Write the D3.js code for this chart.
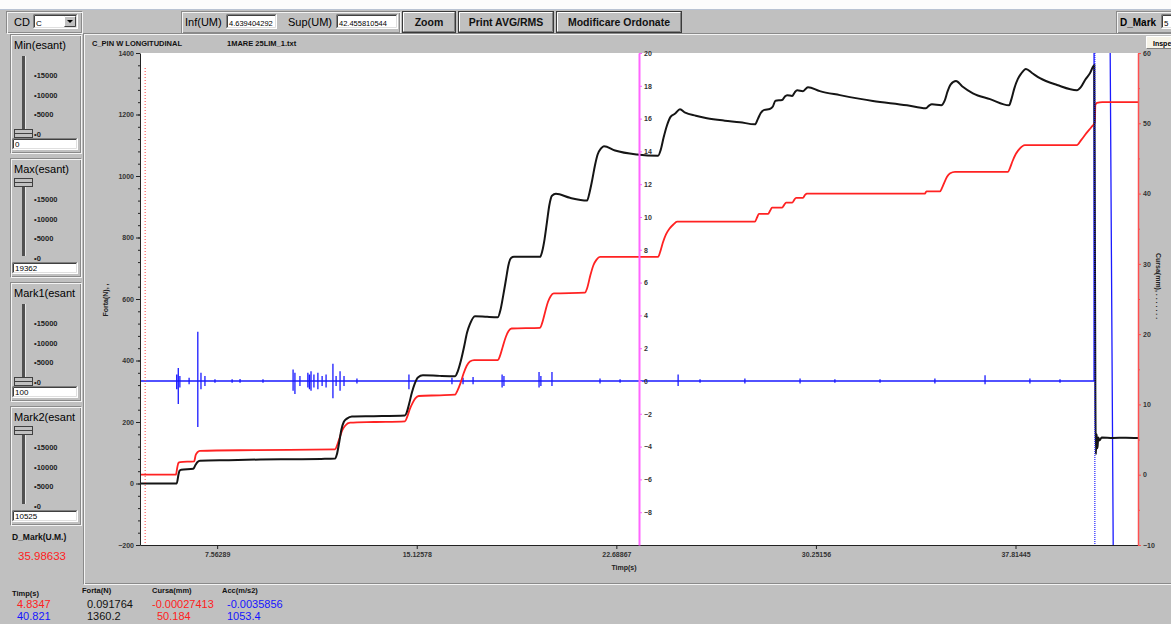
<!DOCTYPE html>
<html>
<head>
<meta charset="utf-8">
<script src="https://cdn.jsdelivr.net/npm/d3@7"></script>
<style>
  html, body { margin: 0; padding: 0; overflow: hidden; background: #fff; }
  svg { display: block; font-family: "Liberation Sans", Arial, sans-serif; }
</style>
</head>
<body>
<svg id="chart"></svg>
<script>
// ---- data ----
const tInf = 4.639404292, tSup = 42.455810544;
const timeTicks = [7.56289, 15.12578, 22.68867, 30.25156, 37.81445];
const forceTicks = d3.range(-200, 1401, 200);
const accTicks = d3.range(-8, 21, 2);
const cursaTicks = d3.range(-10, 61, 10);

// Forta(N) [t, N]
const forcePoints = [
  [4.64,0],[6.03,0],[6.10,30],[6.14,42],[6.20,45],[6.66,48],[6.74,60],[6.82,70],[6.91,74],[8.0,76],[9.2,78],[10.5,79],[11.5,80],[12.03,81],
  [12.10,95],[12.18,130],[12.27,175],[12.36,200],[12.48,211],[12.67,218],[13.5,219],[14.68,221],
  [14.75,232],[14.84,260],[14.94,295],[15.05,325],[15.17,345],[15.36,352],[16.0,350],[16.58,349],
  [16.68,365],[16.80,400],[16.92,445],[17.03,490],[17.14,518],[17.33,544],[17.8,542],[18.20,541],
  [18.30,565],[18.40,610],[18.51,665],[18.60,710],[18.70,733],[18.81,737],[19.3,737],[19.80,737],
  [19.88,755],[19.97,795],[20.06,850],[20.15,905],[20.25,936],[20.40,942],[20.93,929],[21.58,920],
  [21.67,945],[21.77,985],[21.88,1035],[21.98,1070],[22.11,1090],[22.22,1097],[22.64,1083],[23.47,1070],[24.27,1066],
  [24.37,1085],[24.48,1125],[24.61,1165],[24.75,1193],[24.92,1203],[25.10,1217],[25.30,1206],[25.7,1196],[26.12,1188],[26.8,1180],[27.37,1175],[27.94,1168],
  [28.05,1185],[28.16,1205],[28.30,1215],[28.50,1218],[28.62,1226],[28.72,1245],[28.97,1247],[29.07,1258],[29.16,1263],[29.35,1260],[29.45,1272],[29.54,1279],[29.76,1276],[29.95,1289],
  [30.40,1276],[31.16,1263],[32.41,1244],[33.70,1230],[34.42,1220],[34.55,1230],[34.65,1233],[35.0,1230],[35.13,1245],[35.24,1275],[35.36,1298],[35.56,1309],[35.79,1292],[36.20,1269],[36.85,1250],[37.57,1230],
  [37.66,1250],[37.77,1285],[37.90,1315],[38.02,1332],[38.21,1348],[38.44,1335],[38.74,1318],[39.39,1296],[40.14,1279],[40.29,1289],[40.45,1312],[40.64,1335],[40.80,1360],
  [40.82,900],[40.84,300],[40.86,95],[40.89,160],[40.92,115],[40.95,150],[41.0,140],[41.08,150],[41.5,148],[42.0,149],[42.46,148]
];

// Cursa(mm) [t, mm]
const cursaPoints = [
  [4.64,0],[6.00,0],[6.05,1.0],[6.10,1.7],[6.16,1.8],[6.69,1.9],[6.75,2.8],[6.82,3.2],[6.91,3.4],[9.0,3.5],[12.03,3.6],
  [12.10,4.1],[12.20,5.2],[12.30,6.3],[12.42,7.0],[12.60,7.4],[13.5,7.5],[14.68,7.6],
  [14.76,8.2],[14.87,9.4],[14.98,10.3],[15.08,10.9],[15.20,11.2],[16.0,11.3],[16.58,11.4],
  [16.66,11.9],[16.78,13.0],[16.90,14.4],[17.02,15.5],[17.14,16.1],[17.30,16.3],[18.20,16.3],
  [18.28,16.9],[18.40,18.4],[18.50,19.6],[18.60,20.4],[18.72,20.8],[19.80,20.9],
  [19.88,21.6],[20.00,23.3],[20.10,24.6],[20.20,25.4],[20.32,25.8],[21.50,25.9],
  [21.58,26.5],[21.70,28.3],[21.82,29.8],[21.94,30.6],[22.07,31.0],[24.27,31.0],
  [24.35,31.7],[24.45,33.0],[24.57,34.2],[24.70,35.0],[24.85,35.6],[24.99,36.0],[27.94,36.0],
  [28.02,36.6],[28.09,37.1],[28.44,37.1],[28.52,37.6],[28.59,38.0],[28.97,38.0],[29.05,38.4],[29.12,38.7],[29.35,38.7],[29.43,39.1],[29.50,39.4],[29.76,39.4],[29.84,39.8],[29.91,40.0],
  [34.38,40.0],[34.44,40.3],[34.95,40.3],[35.03,40.8],[35.12,41.6],[35.22,42.4],[35.34,42.9],[35.52,43.1],[37.53,43.1],
  [37.60,43.6],[37.70,44.6],[37.82,45.6],[37.95,46.3],[38.17,46.9],[40.14,46.9],[40.30,47.6],[40.50,48.6],[40.70,49.5],[40.80,50.0],[40.821,50.18],
  [40.84,52.6],[40.90,52.9],[41.1,53.0],[42.46,53.0]
];

// Acc(m/s2): spikes on the zero line [t, max, min], then the end of the record
const accSpikes = [
  [6.03,0.4,-0.5],[6.09,0.8,-1.4],[6.15,0.3,-0.4],[6.50,0.2,-0.2],[6.83,3.0,-2.8],[6.95,0.5,-0.5],[7.10,0.3,-0.3],[7.48,0.1,-0.1],[8.13,0.1,-0.1],[8.43,0.12,-0.1],[9.30,0.1,-0.1],
  [10.44,0.7,-0.6],[10.51,0.5,-0.8],[10.70,0.3,-0.3],[11.00,0.5,-0.4],[11.06,0.4,-0.5],[11.12,0.6,-0.6],[11.23,0.4,-0.4],[11.38,0.5,-0.5],[11.54,0.3,-0.3],[11.69,0.4,-0.4],[11.95,1.05,-1.05],[12.07,0.3,-0.3],[12.22,0.6,-0.6],[12.37,0.3,-0.3],[12.86,0.15,-0.15],
  [14.83,0.4,-0.5],[16.46,0.2,-0.2],[16.88,0.2,-0.2],[17.26,0.25,-0.2],[18.36,0.4,-0.4],[18.43,0.3,-0.3],[19.76,0.55,-0.4],[19.83,0.3,-0.3],[20.25,0.55,-0.3],[22.07,0.15,-0.15],[22.83,0.1,-0.1],
  [25.03,0.4,-0.3],[25.86,0.1,-0.1],[27.56,0.15,-0.15],[29.65,0.15,-0.15],[30.97,0.1,-0.1],[32.68,0.1,-0.1],[34.76,0.15,-0.15],[36.66,0.35,-0.2],[38.36,0.15,-0.15],[39.50,0.1,-0.1]
];
const accTail = [[40.79,0],[40.821,1053.4],[41.25,60],[41.63,-40],[42.46,-40]];

const mark1T = 4.8347, mark2T = 40.821;

// read-out panel
const readoutHead = ["Timp(s)", "Forta(N)", "Cursa(mm)", "Acc(m/s2)"];
const readoutRow1 = ["4.8347", "0.091764", "-0.00027413", "-0.0035856"];
const readoutRow2 = ["40.821", "1360.2", "50.184", "1053.4"];
const sliderLabels = ["15000", "10000", "5000", "0"];
const sliders = [
  { top: 34, title: "Min(esant)", value: "0", thumbTop: false },
  { top: 158, title: "Max(esant)", value: "19362", thumbTop: true },
  { top: 282, title: "Mark1(esant", value: "100", thumbTop: false },
  { top: 406, title: "Mark2(esant", value: "10525", thumbTop: true }
];

// ---- drawing ----
const W = 1171, H = 624;
const GRAY = "#c0c0c0";
const svg = d3.select("#chart").attr("width", W).attr("height", H);

svg.append("rect").attr("width", W).attr("height", H).attr("fill", GRAY);
svg.append("rect").attr("width", W).attr("height", 9).attr("fill", "#fcfcfc");
svg.append("line").attr("x1", 0).attr("x2", W).attr("y1", 9.5).attr("y2", 9.5).attr("stroke", "#b9c3d3");

function edge(x, y, w, h, tl, br) {
  svg.append("path").attr("d", `M${x + .5},${y + h - .5}V${y + .5}H${x + w - .5}`).attr("fill", "none").attr("stroke", tl);
  svg.append("path").attr("d", `M${x + w - .5},${y + .5}V${y + h - .5}H${x + .5}`).attr("fill", "none").attr("stroke", br);
}
function etched(x, y, w, h) {
  svg.append("rect").attr("x", x + .5).attr("y", y + .5).attr("width", w - 2).attr("height", h - 2)
    .attr("fill", "none").attr("stroke", "#8a8a8a");
  svg.append("rect").attr("x", x + 1.5).attr("y", y + 1.5).attr("width", w - 2).attr("height", h - 2)
    .attr("fill", "none").attr("stroke", "#f4f4f4");
}
function text(x, y, s, size, opts = {}) {
  return svg.append("text").attr("x", x).attr("y", y).text(s)
    .attr("font-size", size + "px")
    .attr("font-weight", opts.bold ? "bold" : "normal")
    .attr("fill", opts.fill || "#000")
    .attr("text-anchor", opts.anchor || "start");
}
function textbox(x, y, w, h, s, size) {
  svg.append("rect").attr("x", x).attr("y", y).attr("width", w).attr("height", h).attr("fill", "#fff");
  edge(x, y, w, h, "#808080", "#ffffff");
  edge(x + 1, y + 1, w - 2, h - 2, "#404040", "#dfdfdf");
  text(x + 3, y + h - 3.5, s, size);
}
function button(x, y, w, h, s) {
  svg.append("rect").attr("x", x + .5).attr("y", y + .5).attr("width", w - 1).attr("height", h - 1)
    .attr("fill", GRAY).attr("stroke", "#3a3a3a");
  edge(x + 1, y + 1, w - 2, h - 2, "#ffffff", "#808080");
  text(x + w / 2, y + h / 2 + 4, s, 10.5, { bold: true, anchor: "middle", fill: "#111" });
}

// toolbar
etched(6, 11, 77, 23);
text(14, 26, "CD", 11);
textbox(33, 14, 45, 15, "C", 8);
svg.append("rect").attr("x", 64).attr("y", 16).attr("width", 12).attr("height", 11).attr("fill", GRAY);
edge(64, 16, 12, 11, "#ffffff", "#404040");
svg.append("path").attr("d", "M67,20h6l-3,3z").attr("fill", "#000");

etched(181, 11, 220, 23);
text(185, 26, "Inf(UM)", 11);
textbox(226, 14, 51, 15, "4.639404292", 7.5);
text(288, 26, "Sup(UM)", 11);
textbox(336, 14, 62, 15, "42.455810544", 7.5);
button(402, 11, 54, 22, "Zoom");
button(458, 11, 96, 22, "Print AVG/RMS");
button(556, 11, 126, 22, "Modificare Ordonate");

etched(1116, 11, 62, 23);
text(1120, 26, "D_Mark", 10, { bold: true });
textbox(1161, 14, 16, 15, "5", 8);

// chart panel
etched(83, 33, 1095, 552);
svg.append("rect").attr("x", 1146).attr("y", 36).attr("width", 30).attr("height", 13).attr("fill", "#f6f3e8");
edge(1146, 36, 30, 13, "#ffffff", "#808080");
text(1153, 46, "Inspe", 7, { bold: true });
text(92, 46, "C_PIN W LONGITUDINAL", 7.5, { bold: true, fill: "#111" });
text(227, 46, "1MARE 25LIM_1.txt", 7.5, { bold: true, fill: "#111" });

// sliders on the left
sliders.forEach(s => {
  const g = s.top;
  etched(10, g, 72, 120);
  text(14, g + 15, s.title, 11);
  svg.append("rect").attr("x", 22).attr("y", g + 22).attr("width", 3).attr("height", 76).attr("fill", "#505050");
  svg.append("line").attr("x1", 25.5).attr("x2", 25.5).attr("y1", g + 22).attr("y2", g + 98).attr("stroke", "#e8e8e8");
  const ty = s.thumbTop ? g + 20 : g + 95;
  svg.append("rect").attr("x", 14.5).attr("y", ty + .5).attr("width", 18).attr("height", 8)
    .attr("fill", GRAY).attr("stroke", "#404040");
  svg.append("line").attr("x1", 15).attr("x2", 32).attr("y1", ty + 4.5).attr("y2", ty + 4.5).attr("stroke", "#404040");
  sliderLabels.forEach((l, i) => text(34, g + 44 + i * 19.7, "\u2022" + l, 7.5, { bold: true, fill: "#222" }));
  textbox(12, g + 104, 66, 12, s.value, 8);
});

text(12, 540, "D_Mark(U.M.)", 8.5, { bold: true, fill: "#111" });
text(18, 560, "35.98633", 11.5, { fill: "#ff2020" });

// read-out table
const colX = [12, 82, 152, 222];
const row1Col = ["#ff2020", "#111", "#ff2020", "#1515ff"];
const row2Col = ["#1515ff", "#111", "#ff2020", "#1515ff"];
readoutHead.forEach((h, i) => text(colX[i], i === 0 ? 596 : 593, h, 7.5, { bold: true, fill: "#111" }));
readoutRow1.forEach((v, i) => text(colX[i] + (i === 2 ? 0 : 5), 608, v, 11, { fill: row1Col[i] }));
readoutRow2.forEach((v, i) => text(colX[i] + 5, 620, v, 11, { fill: row2Col[i] }));

// ---- plot ----
const P = { left: 140, right: 1138, top: 53, bottom: 545 };
svg.append("rect").attr("x", P.left).attr("y", P.top).attr("width", P.right - P.left).attr("height", P.bottom - P.top).attr("fill", "#fff");

const x = d3.scaleLinear().domain([tInf, tSup]).range([P.left, P.right]);
const yForce = d3.scaleLinear().domain([-200, 1400]).range([P.bottom, P.top]);
const yAcc = d3.scaleLinear().domain([-10, 20]).range([P.bottom, P.top]);
const yCursa = d3.scaleLinear().domain([-10, 60]).range([P.bottom, P.top]);

svg.append("clipPath").attr("id", "plotclip").append("rect")
  .attr("x", P.left).attr("y", P.top).attr("width", P.right - P.left).attr("height", P.bottom - P.top);
const plotG = svg.append("g").attr("clip-path", "url(#plotclip)");

// acceleration
const accPoints = [[tInf, 0]];
accSpikes.forEach(([t, hi, lo]) => { accPoints.push([t, 0], [t, hi], [t, lo], [t, 0]); });
accTail.forEach(p => accPoints.push(p));
plotG.append("path").datum(accPoints)
  .attr("d", d3.line().x(d => x(d[0])).y(d => yAcc(d[1])))
  .attr("fill", "none").attr("stroke", "#1a1aff").attr("stroke-width", 1.3);

// cursa
plotG.append("path").datum(cursaPoints)
  .attr("d", d3.line().x(d => x(d[0])).y(d => yCursa(d[1])).curve(d3.curveMonotoneX))
  .attr("fill", "none").attr("stroke", "#ff2222").attr("stroke-width", 1.8);

// forta
plotG.append("path").datum(forcePoints)
  .attr("d", d3.line().x(d => x(d[0])).y(d => yForce(d[1])).curve(d3.curveMonotoneX))
  .attr("fill", "none").attr("stroke", "#151515").attr("stroke-width", 2);

// markers
plotG.append("line").attr("x1", x(mark1T)).attr("x2", x(mark1T)).attr("y1", P.top + 15).attr("y2", P.bottom)
  .attr("stroke", "#ff4040").attr("stroke-width", 1).attr("stroke-dasharray", "1,2");
plotG.append("line").attr("x1", x(mark2T)).attr("x2", x(mark2T)).attr("y1", P.top).attr("y2", P.bottom)
  .attr("stroke", "#2020ff").attr("stroke-width", 1.2).attr("stroke-dasharray", "1,1");

// axes
function styleAxis(g, lineColor, width) {
  g.select(".domain").attr("stroke", lineColor).attr("stroke-width", width);
  g.selectAll(".tick line").attr("stroke", lineColor);
  g.selectAll(".tick text").attr("font-size", "7px").attr("font-weight", "bold")
    .attr("fill", "#333").attr("font-family", "Liberation Sans, Arial, sans-serif");
}
const plain = d3.format("d");

const leftMinor = svg.append("g").attr("transform", `translate(${P.left},0)`)
  .call(d3.axisLeft(yForce).tickValues(d3.range(-200, 1401, 40)).tickSize(2).tickFormat(""));
leftMinor.select(".domain").remove();
leftMinor.selectAll(".tick line").attr("stroke", "#222");
const leftAxis = svg.append("g").attr("transform", `translate(${P.left},0)`)
  .call(d3.axisLeft(yForce).tickValues(forceTicks).tickFormat(plain).tickSize(4).tickPadding(2).tickSizeOuter(0));
styleAxis(leftAxis, "#222", 1);

const bottomAxis = svg.append("g").attr("transform", `translate(0,${P.bottom})`)
  .call(d3.axisBottom(x).tickValues(timeTicks).tickFormat(d => d.toFixed(5)).tickSize(4).tickPadding(3).tickSizeOuter(0));
styleAxis(bottomAxis, "#222", 1);

const midX = (P.left + P.right) / 2;
const midAxis = svg.append("g").attr("transform", `translate(${midX},0)`)
  .call(d3.axisRight(yAcc).tickValues(accTicks).tickFormat(plain).tickSize(3).tickPadding(2).tickSizeOuter(0));
styleAxis(midAxis, "#ff66ff", 2);

const rightMinor = svg.append("g").attr("transform", `translate(${P.right},0)`)
  .call(d3.axisRight(yCursa).tickValues(d3.range(-5, 60, 10)).tickSize(2).tickFormat(""));
rightMinor.select(".domain").remove();
rightMinor.selectAll(".tick line").attr("stroke", "#ff5050");
const rightAxis = svg.append("g").attr("transform", `translate(${P.right},0)`)
  .call(d3.axisRight(yCursa).tickValues(cursaTicks).tickFormat(plain).tickSize(3).tickPadding(2).tickSizeOuter(0));
styleAxis(rightAxis, "#ff5050", 1.5);

text(624, 570, "Timp(s)", 7, { bold: true, anchor: "middle", fill: "#222" });
svg.append("text").attr("transform", "translate(108,300) rotate(-90)")
  .attr("text-anchor", "middle").attr("font-size", "7px").attr("font-weight", "bold").attr("fill", "#222")
  .text("Forta(N), ,");
svg.append("text").attr("transform", "translate(1156,253) rotate(90)")
  .attr("text-anchor", "start").attr("font-size", "7px").attr("font-weight", "bold").attr("fill", "#222")
  .text("Cursa(mm), . . . . . . .");
</script>
</body>
</html>
